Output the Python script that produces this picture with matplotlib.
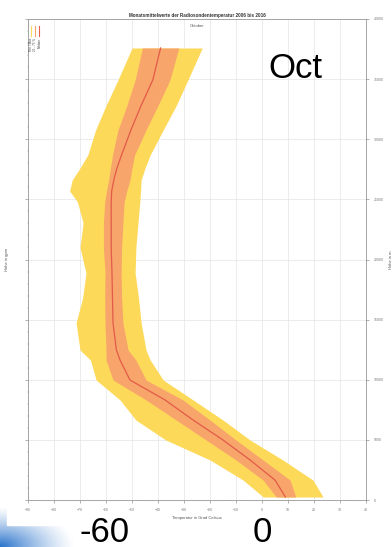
import numpy as np
import matplotlib
matplotlib.use("Agg")
import matplotlib.pyplot as plt
from matplotlib.ticker import MultipleLocator

plt.rcParams["font.family"] = ["Liberation Sans", "DejaVu Sans"]

# Radiosonde profile, October (height in gpm, temperature in deg C)
hoehe = [250, 1660, 3330, 4990, 6650, 8320, 9980, 11640, 12470, 14720, 16800,
         18880, 21000, 23040, 24800, 25700, 26610, 27600, 28700, 30770, 32800,
         34930, 37590]
median = [9.0, 5.0, -4.6, -15.0, -26.5, -37.3, -50.8, -54.6, -56.0, -57.3, -57.5,
          -57.7, -58.0, -58.0, -58.0, -57.8, -57.0, -55.8, -54.0, -50.4, -46.5,
          -42.0, -39.0]
quart_lo = [5.5, 0.4, -10.0, -21.5, -33.0, -44.6, -57.3, -60.0, -60.0, -60.4, -60.5,
            -60.4, -61.0, -61.0, -60.5, -59.8, -59.0, -58.3, -57.5, -55.4, -52.0,
            -48.8, -46.0]
quart_hi = [13.0, 10.8, 0.4, -10.0, -20.0, -30.4, -44.6, -48.5, -51.5, -53.5, -54.0,
            -54.2, -54.0, -53.5, -53.0, -52.0, -50.8, -50.0, -49.0, -44.6, -40.0,
            -35.4, -32.0]
min_t = [0.5, -7.3, -20.0, -37.0, -48.5, -54.6, -63.8, -66.0, -70.0, -71.5, -69.0,
         -67.7, -70.0, -68.8, -71.0, -74.0, -73.0, -70.0, -67.0, -64.0, -60.0,
         -55.4, -50.0]
max_t = [23.5, 19.6, 8.0, -4.6, -15.0, -26.5, -38.0, -43.0, -44.6, -46.5, -47.5,
         -48.8, -48.5, -47.7, -47.0, -46.7, -46.5, -45.0, -43.0, -38.0, -33.0,
         -28.5, -23.0]

x_ticks = list(range(-90, 41, 10))
y_ticks = list(range(0, 40001, 5000))

W, H = 392, 547
fig = plt.figure(figsize=(W / 100, H / 100), dpi=100)

# slide background: blue swoosh in the bottom left corner, white picture on top
bg = fig.add_axes([0, 0, 1, 1])
bg.set_axis_off()
px, py = np.meshgrid(np.arange(W), np.arange(H))
d = np.hypot(px / 75.0, py / 40.0)
alpha = np.clip(1.0 - d, 0, 1) ** 1.3
img = np.ones((H, W, 4))
img[..., 0], img[..., 1], img[..., 2] = 0.16, 0.45, 0.80
img[..., 3] = alpha
bg.imshow(img, extent=[0, 1, 0, 1], origin="lower", aspect="auto")
bg.add_patch(plt.Rectangle((7 / W, 22 / H), 1, 1, color="white"))
bg.set_xlim(0, 1)
bg.set_ylim(0, 1)

ax = fig.add_axes([28 / W, 47 / H, 338 / W, 481 / H])
ax.fill_betweenx(hoehe, min_t, max_t, color="#fdd95a", lw=0)
ax.fill_betweenx(hoehe, quart_lo, quart_hi, color="#f8a56c", lw=0)
ax.plot(median, hoehe, color="#e25a48", lw=0.9)

ax.set_xlim(-90, 40)
ax.set_ylim(0, 40000)
ax.set_xticks(x_ticks)
ax.set_yticks(y_ticks)
ax.xaxis.set_minor_locator(MultipleLocator(2))
ax.yaxis.set_minor_locator(MultipleLocator(1000))
ax.grid(True, color="#e4e4e4", lw=0.5)
ax.set_axisbelow(True)
ax.tick_params(labelsize=2.5, colors="#777777", length=2, width=0.4)
ax.tick_params(which="minor", length=1, width=0.3, colors="#999999")
ax.set_yticklabels([])
for s in ax.spines.values():
    s.set_color("#999999")
    s.set_linewidth(0.6)

ax2 = ax.twinx()
ax2.set_ylim(0, 40000)
ax2.set_yticks(y_ticks)
ax2.yaxis.set_minor_locator(MultipleLocator(1000))
ax2.tick_params(labelsize=2.5, colors="#777777", length=2, width=0.4)
ax2.tick_params(which="minor", length=1, width=0.3, colors="#999999")
for s in ax2.spines.values():
    s.set_visible(False)

ax.set_xlabel("Temperatur in Grad Celsius", fontsize=3, color="#555555", labelpad=3)
ax.set_ylabel("Höhe in gpm", fontsize=3, color="#555555", labelpad=8)
ax2.set_ylabel("Höhe in m", fontsize=3, color="#555555", labelpad=4)
ax.set_title("Monatsmittelwerte der Radiosondentemperatur 2006 bis 2016",
             fontsize=3.3, fontweight="bold", color="#333333", pad=1.5)
ax.text(0.5, 0.99, "Oktober", transform=ax.transAxes, ha="center", va="top",
        fontsize=3, color="#555555")

# tiny rotated legend in the upper left corner
leg_items = [("Min / Max", "#fdd95a"), ("25 - 75 %", "#f8a56c"), ("Median", "#e8604c")]
for i, (lab, col) in enumerate(leg_items):
    xa = 0.01 + i * 0.012
    ax.plot([xa, xa], [0.985, 0.965], transform=ax.transAxes, color=col, lw=0.8)
    ax.text(xa, 0.96, lab, transform=ax.transAxes, rotation=90, ha="center",
            va="top", fontsize=2.2, color="#444444")

# slide annotations
fig.text(295 / W, 1 - 68 / H, "Oct", fontsize=25, ha="center", va="center")
fig.text(105 / W, 1 - 532 / H, "-60", fontsize=25, ha="center", va="center")
fig.text(262 / W, 1 - 532 / H, "0", fontsize=25, ha="center", va="center")

fig.savefig("out.png", dpi=100)
